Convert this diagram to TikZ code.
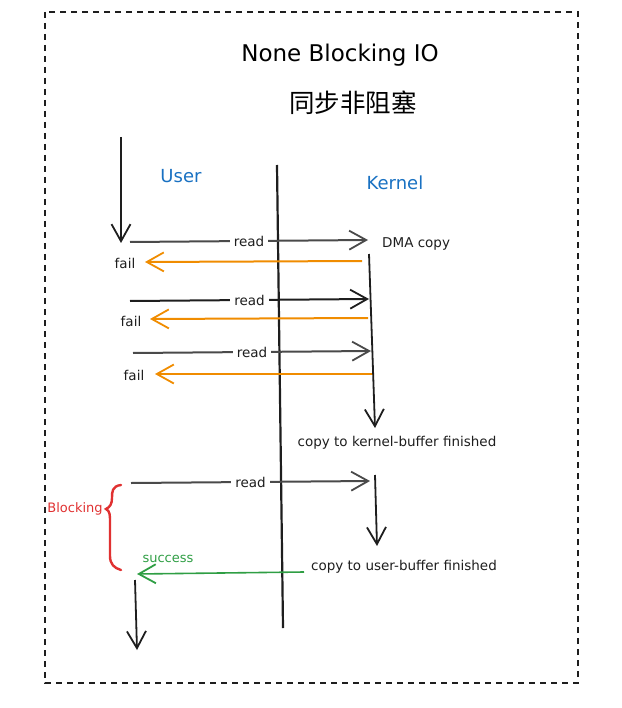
\documentclass[tikz,border=0pt]{standalone}
\usepackage{fontspec}
\setmainfont{DejaVu Sans}
\newfontfamily\cjk{Noto Sans CJK SC}
\usetikzlibrary{arrows.meta}
\definecolor{ink}{HTML}{1E1E1E}
\definecolor{gray}{HTML}{4A4A4A}
\definecolor{myblue}{HTML}{1971C2}
\definecolor{myorange}{HTML}{F08C00}
\definecolor{mygreen}{HTML}{2F9E44}
\definecolor{myred}{HTML}{E03131}
\tikzset{
  hd/.style={-{Straight Barb[length=17pt,width=19pt,line width=1.8pt]}},
  readarrow/.style={draw=gray, line width=2pt, hd},
  failarrow/.style={draw=myorange, line width=2pt, hd},
  okarrow/.style={draw=mygreen, line width=1.6pt, hd},
  downarrow/.style={draw=ink, line width=1.8pt, hd},
  lbl/.style={font=\fontsize{13.5}{16}\selectfont, text=ink, inner sep=2pt},
  readlbl/.style={lbl, fill=white, inner xsep=4pt, inner ysep=1pt},
}
\begin{document}
\begin{tikzpicture}[x=1pt,y=-1pt]
\useasboundingbox (0,0) rectangle (621,708);
\draw[ink, line width=1.2pt, dash pattern=on 6pt off 5pt] (45,12) rectangle (578,683);

\node (title) at (340,55) {\fontsize{23}{26}\selectfont None Blocking IO};
\node (cn) at (353,103) {\cjk\fontsize{25.5}{28}\selectfont 同步非阻塞};
\node[text=myblue] (user) at (181,176) {\fontsize{18}{20}\selectfont User};
\node[text=myblue] (kernel) at (395,183) {\fontsize{18}{20}\selectfont Kernel};

% central divider
\coordinate (divT) at (277,165);
\coordinate (divB) at (283,628);
\draw[ink, line width=2.2pt] (divT) -- (divB);

% user timeline start
\coordinate (u0) at (121,137);
\coordinate (u1) at (121,243);
\draw[downarrow] (u0) -- (u1);

% round 1
\coordinate (r1a) at (130,242); \coordinate (r1b) at (368,240);
\draw[readarrow] (r1a) -- node[readlbl] (read1) {read} (r1b);
\node[lbl, anchor=west] (dma) at (380,244) {DMA copy};
\coordinate (f1a) at (362,261); \coordinate (f1b) at (145,262);
\draw[failarrow] (f1a) -- (f1b);
\node[lbl] (fail1) at (125,263) {fail};

% round 2
\coordinate (r2a) at (130,301); \coordinate (r2b) at (369,299);
\draw[readarrow, draw=ink] (r2a) -- node[readlbl] (read2) {read} (r2b);
\coordinate (f2a) at (368,318); \coordinate (f2b) at (150,319);
\draw[failarrow] (f2a) -- (f2b);
\node[lbl] (fail2) at (131,321) {fail};

% round 3
\coordinate (r3a) at (133,353); \coordinate (r3b) at (371,351);
\draw[readarrow] (r3a) -- node[readlbl] (read3) {read} (r3b);
\coordinate (f3a) at (373,374); \coordinate (f3b) at (155,374);
\draw[failarrow] (f3a) -- (f3b);
\node[lbl] (fail3) at (134,375) {fail};

% kernel dma timeline
\coordinate (k0) at (369,254);
\coordinate (k1) at (375,428);
\draw[downarrow] (k0) -- (k1);
\node[lbl] (kbuf) at (397,443) {copy to kernel-buffer finished};

% round 4
\coordinate (r4a) at (131,483); \coordinate (r4b) at (370,481);
\draw[readarrow] (r4a) -- node[readlbl] (read4) {read} (r4b);
\coordinate (k2) at (375,475);
\coordinate (k3) at (377,546);
\draw[downarrow] (k2) -- (k3);
\node[lbl] (ubuf) at (404,567) {copy to user-buffer finished};

% success
\coordinate (sa) at (304,572); \coordinate (sb) at (137,574);
\draw[okarrow] (sa) -- (sb);
\node[text=mygreen, font=\fontsize{13}{15}\selectfont] (succ) at (168,559) {success};

% blocking brace
\draw[myred, line width=2.4pt, line cap=round]
  (121,485) .. controls (112,486) and (112,492) .. (112,498)
  .. controls (112,504) and (110,507) .. (106,509)
  .. controls (110,511) and (110,515) .. (110,522)
  -- (110,556)
  .. controls (110,564) and (114,568) .. (121,570);
\node[text=myred, font=\fontsize{13}{15}\selectfont] (blk) at (75,509) {Blocking};

% final user arrow
\coordinate (u2) at (135,580);
\coordinate (u3) at (137,650);
\draw[downarrow] (u2) -- (u3);
\end{tikzpicture}
\end{document}
